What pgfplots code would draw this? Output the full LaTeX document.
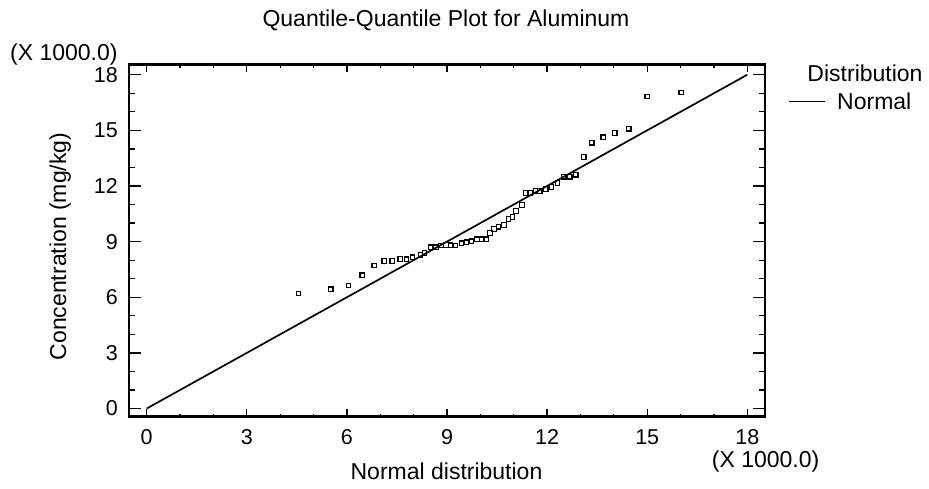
\documentclass[border=0pt]{standalone}
\usepackage{fontspec}
\setmainfont{Liberation Sans}
\usepackage{pgfplots}
\pgfplotsset{compat=1.18}

\newcommand{\lbl}{\fontsize{23}{27}\selectfont}

\begin{document}
\begin{tikzpicture}[x=1pt,y=1pt]
\useasboundingbox (0,0) rectangle (929,489);

\begin{axis}[
	at={(129pt,72.3pt)}, anchor=south west,
	scale only axis, width=636pt, height=352pt,
	xmin=-0.53, xmax=18.53, ymin=-0.44, ymax=18.54,
	xtick={0,3,...,18}, ytick={0,3,...,18},
	minor tick num=2,
	tick align=inside,
	axis line style={line width=2.4pt},
	tick style={line width=1.3pt, black},
	xtick style={/pgfplots/major tick length=7.5pt, /pgfplots/minor tick length=3pt},
	ytick style={/pgfplots/major tick length=12pt, /pgfplots/minor tick length=6pt},
	/pgf/number format/assume math mode=true,
	ticklabel style={font=\fontsize{21.5}{24}\selectfont, inner sep=0pt},
	xticklabel style={anchor=base, yshift=-28.3pt},
	yticklabel style={anchor=east, xshift=-11pt},
]
	% quantile pairs (normal quantile, observed), both x 1000
	\addplot[only marks, mark=square, mark size=2.2pt, mark options={line width=1.2pt, black}] coordinates {
		(4.55,6.20) (5.52,6.43) (6.05,6.64) (6.46,7.19) (6.82,7.72)
		(7.12,7.95) (7.36,7.95) (7.60,8.06) (7.79,8.05) (7.96,8.16)
		(8.20,8.28) (8.32,8.39) (8.50,8.70) (8.67,8.70) (8.82,8.80)
		(8.97,8.82) (9.10,8.81) (9.26,8.80) (9.43,8.91) (9.58,8.97)
		(9.73,9.02) (9.90,9.13) (10.04,9.13) (10.17,9.13) (10.29,9.47)
		(10.41,9.68) (10.54,9.80) (10.71,9.90) (10.84,10.22) (10.96,10.33)
		(11.07,10.65) (11.25,10.98) (11.37,11.62) (11.49,11.62) (11.65,11.73)
		(11.78,11.73) (11.96,11.84) (12.13,11.95) (12.31,12.16) (12.50,12.50)
		(12.68,12.50) (12.86,12.60) (13.10,13.56) (13.34,14.33) (13.68,14.63)
		(14.03,14.86) (14.45,15.08) (15.00,16.82) (16.02,17.03)
	};
	% fitted normal line
	\addplot[line width=1.7pt, black, no marks] coordinates {(0,0) (18,18)};
\end{axis}

\node[anchor=base, inner sep=0pt, font=\lbl] at (446,462) {Quantile-Quantile Plot for Aluminum};
\node[anchor=base west, inner sep=0pt, font=\lbl] at (10,428.5) {(X 1000.0)};
\node[anchor=base west, inner sep=0pt, font=\lbl] at (711.7,21.5) {(X 1000.0)};
\node[anchor=base, inner sep=0pt, font=\lbl] at (446.5,9) {Normal distribution};
\node[rotate=90, anchor=base, inner sep=0pt, font=\lbl] at (66,242.5) {Concentration (mg/kg)};

% legend
\node[anchor=base, inner sep=0pt, font=\lbl] at (865,407.3) {Distribution};
\draw[line width=1.5pt] (789,387.3) -- (825,387.3);
\node[anchor=base west, inner sep=0pt, font=\lbl] at (837,379) {Normal};

\end{tikzpicture}
\end{document}
